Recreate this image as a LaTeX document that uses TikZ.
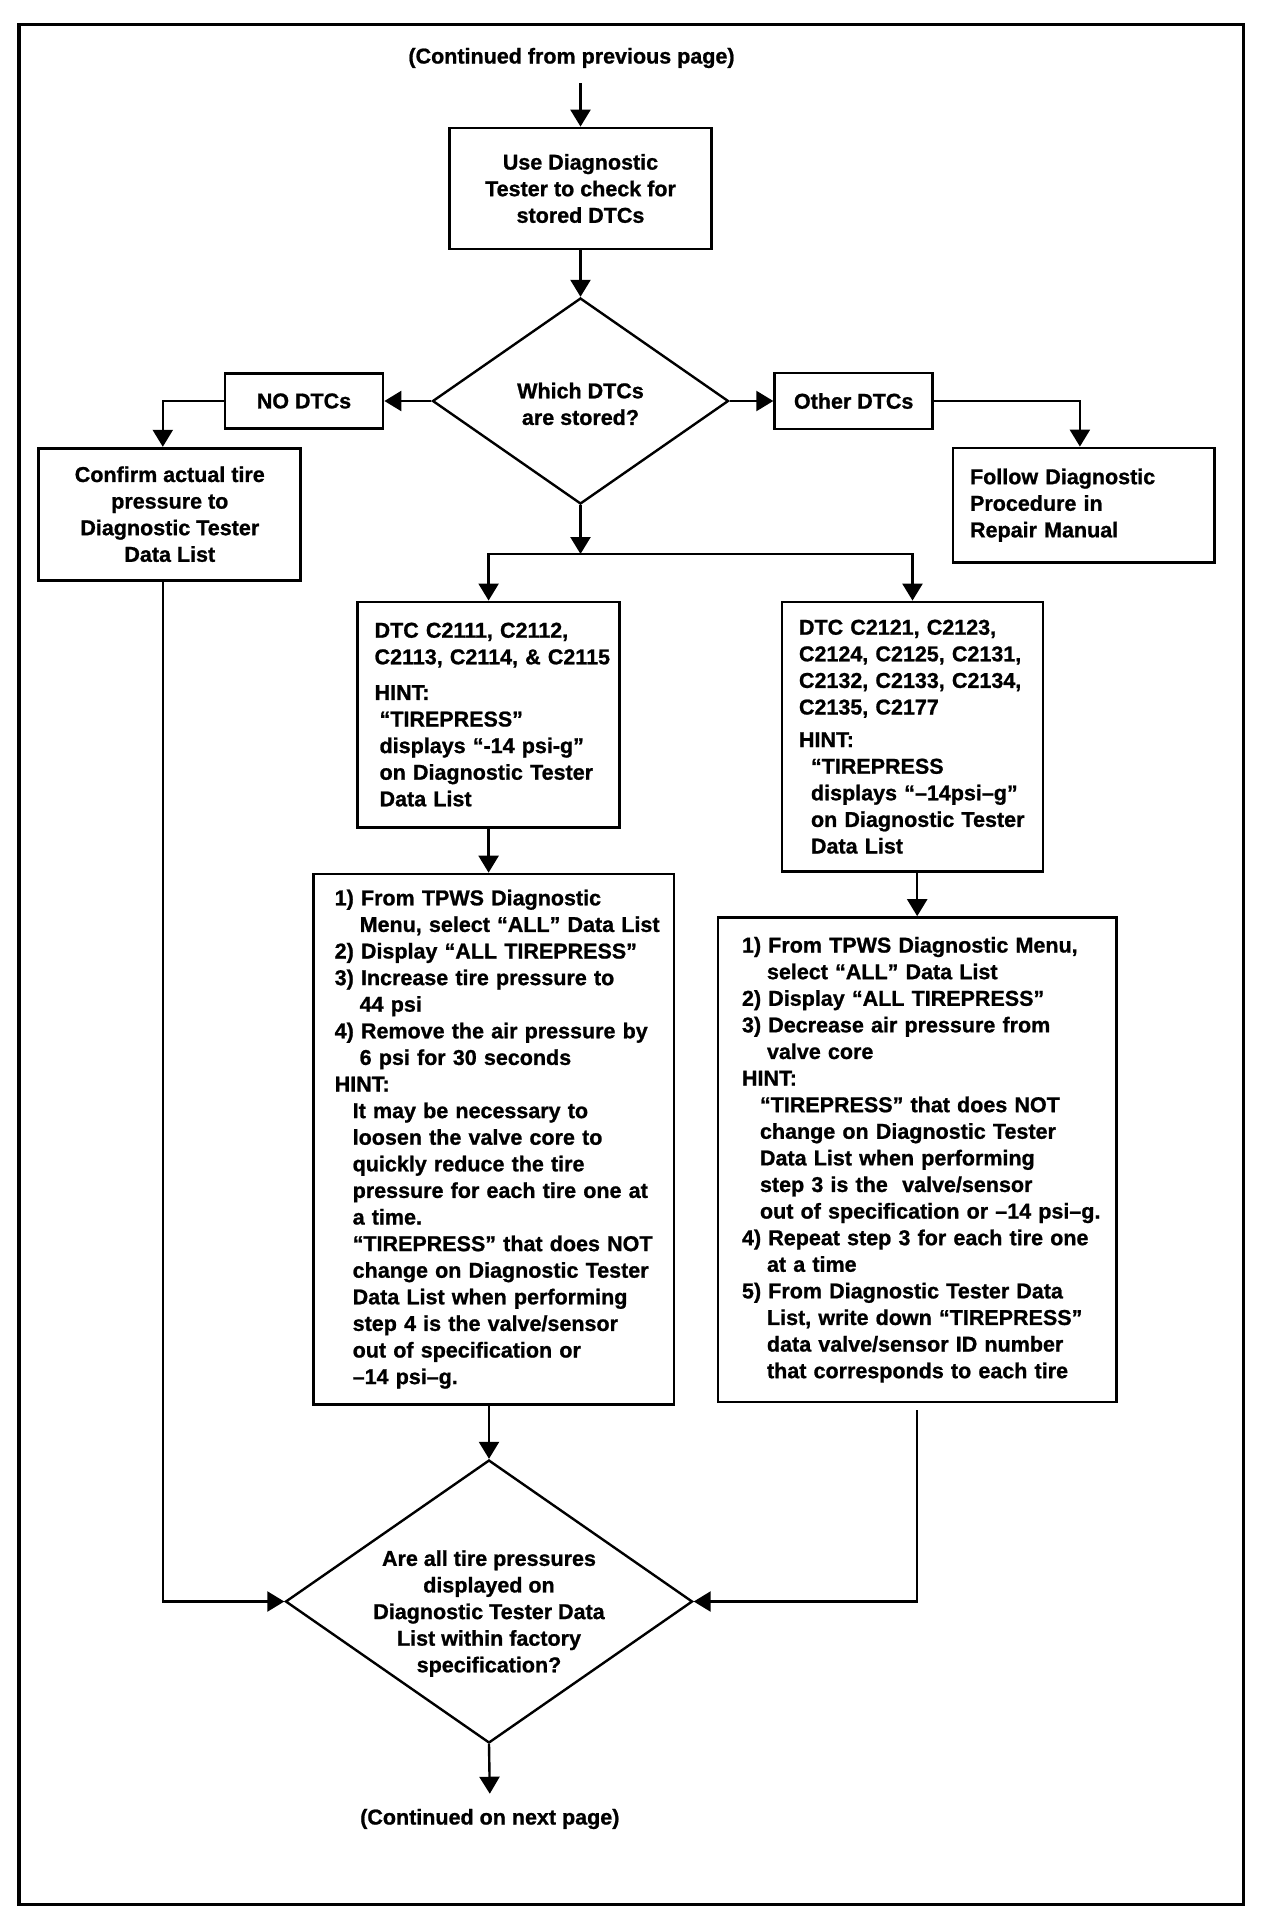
\documentclass[tikz,border=0pt]{standalone}
\usepackage{fontspec}
\setmainfont{Liberation Sans}[BoldFeatures={FakeBold=1}]
\usetikzlibrary{arrows.meta}
\usetikzlibrary{shapes.geometric}
\tikzset{>={Triangle[length=17pt,width=20pt]}}
\colorlet{background}{white}
\newcommand{\flowfont}{\bfseries\fontsize{21.5}{26.6}\selectfont}
\newcommand{\subline}{\hspace*{25pt}}
\newcommand{\hintline}{\hspace*{18pt}}
\tikzset{
	box/.style={draw, line width=2.8pt, inner sep=3pt, font=\flowfont},
	textbox/.style={box, align=left, execute at begin node={\leftskip=#1\relax}},
	decision/.style={diamond, draw, line width=2.4pt, inner sep=0pt, aspect=1.44, align=center, font=\flowfont},
	link/.style={->, line width=2.4pt},
	cont/.style={inner sep=15pt, font=\flowfont}
}

\begin{document}
\begin{tikzpicture}[x=1pt,y=-1pt]
				\fill[background] (0,0) rectangle (1280,1928);
				\useasboundingbox (0,0) rectangle (1280,1928);
				\draw[line width=3.2pt] (19,24.5) rectangle (1243.3,1904.7);
				% top part
				\node[cont] (prev) at (571.5,58) {(Continued from previous page)};
				\node[box, align=center, minimum width=262.5pt, minimum height=121pt] (use) at (580.5,188.5) {Use Diagnostic\\Tester to check for\\stored DTCs};
				\node[decision, minimum width=296pt, minimum height=206pt, text height=48pt] (which) at (580.5,401) {Which DTCs\\are stored?};
				\node[box, minimum width=158pt, minimum height=55pt] (nodtc) at (304,401) {NO DTCs};
				\node[box, minimum width=158pt, minimum height=56pt] (other) at (853.7,401) {Other DTCs};
				\node[box, align=center, minimum width=262pt, minimum height=132pt] (confirm) at (169.8,514.2) {Confirm actual tire\\pressure to\\Diagnostic Tester\\Data List};
				\node[textbox=14pt, text width=255.7pt, minimum height=114.4pt] (follow) at (1083.9,505.2) {Follow Diagnostic\\Procedure in\\Repair Manual};
				% DTC groups
				\node[textbox=14pt, text width=256pt, minimum height=225.3pt] (dtca) at (488.6,714.6) {DTC C2111, C2112,\\C2113, C2114, \& C2115\\[9pt]HINT:\\\hspace*{5pt}“TIREPRESS”\\\hspace*{5pt}displays “-14 psi-g”\\\hspace*{5pt}on Diagnostic Tester\\\hspace*{5pt}Data List};
				\node[textbox=14pt, text width=255pt, minimum height=269.4pt] (dtcb) at (912.5,736.7) {DTC C2121, C2123,\\C2124, C2125, C2131,\\C2132, C2133, C2134,\\C2135, C2177\\[6pt]HINT:\\\hspace*{12pt}“TIREPRESS\\\hspace*{12pt}displays “–14psi–g”\\\hspace*{12pt}on Diagnostic Tester\\\hspace*{12pt}Data List};
				% procedures
				\node[textbox=18.3pt, text width=354.6pt, minimum height=530.3pt] (stepsa) at (493.7,1139.2) {1) From TPWS Diagnostic\\\subline Menu, select “ALL” Data List\\2) Display “ALL TIREPRESS”\\3) Increase tire pressure to\\\subline 44 psi\\4) Remove the air pressure by\\\subline 6 psi for 30 seconds\\HINT:\\\hintline It may be necessary to\\\hintline loosen the valve core to\\\hintline quickly reduce the tire\\\hintline pressure for each tire one at\\\hintline a time.\\\hintline “TIREPRESS” that does NOT\\\hintline change on Diagnostic Tester\\\hintline Data List when performing\\\hintline step 4 is the valve/sensor\\\hintline out of specification or\\\hintline –14 psi–g.};
				\node[textbox=21pt, text width=392.4pt, minimum height=484.5pt] (stepsb) at (917.2,1159.8) {1) From TPWS Diagnostic Menu,\\\subline select “ALL” Data List\\2) Display “ALL TIREPRESS”\\3) Decrease air pressure from\\\subline valve core\\HINT:\\\hintline “TIREPRESS” that does NOT\\\hintline change on Diagnostic Tester\\\hintline Data List when performing\\\hintline step 3 is the\ \ valve/sensor\\\hintline out of specification or –14 psi–g.\\4) Repeat step 3 for each tire one\\\subline at a time\\5) From Diagnostic Tester Data\\\subline List, write down “TIREPRESS”\\\subline data valve/sensor ID number\\\subline that corresponds to each tire};
				% bottom part
				\node[decision, minimum width=407pt, minimum height=283pt, inner sep=-15pt, text height=146pt] (dec) at (489,1601.5) {Are all tire pressures\\displayed on\\Diagnostic Tester Data\\List within factory\\specification?};
				\node[cont] (next) at (489.8,1819) {(Continued on next page)};
				\coordinate (split) at (580.5,554);
				% connectors
				\draw[link] (prev.south -| use.north) -- (use.north);
				\draw[link] (use.south) -- (which.north);
				\draw[link] (which.west) -- (nodtc.east);
				\draw[link] (nodtc.west) -| ([xshift=-7pt]confirm.north);
				\draw[link] (which.east) -- (other.west);
				\draw[link] (other.east) -| ([xshift=-4pt]follow.north);
				\draw[link] (which.south) -- (split);
				\draw[link] (split) -| (dtca.north);
				\draw[link] (split) -| (dtcb.north);
				\draw[link] (dtca.south) -- (dtca.south |- stepsa.north);
				\draw[link] (stepsb.north |- dtcb.south) -- (stepsb.north);
				\draw[link] (stepsa.south -| dec.north) -- (dec.north);
				\draw[link] ([xshift=-7pt]confirm.south) |- (dec.west);
				\draw[link, shorten <=7pt] (stepsb.south) |- (dec.east);
				\draw[link] (dec.south) -- (next.north);
\end{tikzpicture}
\end{document}
